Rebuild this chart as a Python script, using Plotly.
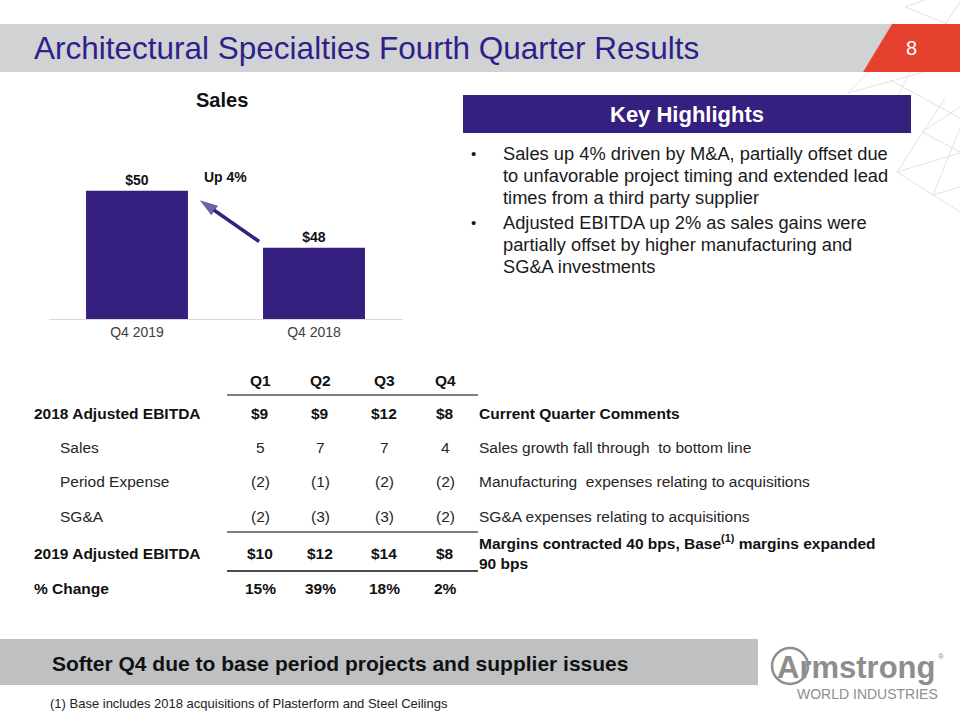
import plotly.graph_objects as go

# ---------------- data ----------------
categories = ["Q4 2019", "Q4 2018"]
sales = [50, 48]
sales_labels = ["$50", "$48"]
growth_label = "Up 4%"

quarters = ["Q1", "Q2", "Q3", "Q4"]
ebitda_2018 = [9, 9, 12, 8]
sales_impact = [5, 7, 7, 4]
period_expense = [-2, -1, -2, -2]
sga_impact = [-2, -3, -3, -2]
ebitda_2019 = [10, 12, 14, 8]
pct_change = [15, 39, 18, 2]

row_labels = ["2018 Adjusted EBITDA", "Sales", "Period Expense", "SG&A",
              "2019 Adjusted EBITDA", "% Change"]
comments = ["Current Quarter Comments",
            "Sales growth fall through  to bottom line",
            "Manufacturing  expenses relating to acquisitions",
            "SG&A expenses relating to acquisitions",
            "Margins contracted 40 bps, Base<sup>(1)</sup> margins expanded<br>90 bps"]

highlight_lines = [
    ["Sales up 4% driven by M&A, partially offset due",
     "to unfavorable project timing and extended lead",
     "times from a third party supplier"],
    ["Adjusted EBITDA up 2% as sales gains were",
     "partially offset by higher manufacturing and",
     "SG&A investments"],
]

title_text = "Architectural Specialties Fourth Quarter Results"
page_no = "8"
banner_text = "Softer Q4 due to base period projects and supplier issues"
footnote = "(1) Base includes 2018 acquisitions of Plasterform and Steel Ceilings"

# ---------------- styles ----------------
W, H = 960, 720
PURPLE = "#35207f"
ARIAL = "Liberation Sans, Arial, sans-serif"
NARROW = "Liberation Sans Narrow, Arial Narrow, Liberation Sans, sans-serif"
TFS = 15.5  # table font size


def X(px):
    return px / W


def Y(py):
    return 1 - py / H


def money(v):
    return f"${v}"


def paren(v):
    return f"({abs(v)})" if v < 0 else f"{v}"


fig = go.Figure()

fig.add_trace(go.Bar(
    x=categories, y=sales, text=sales_labels, texttemplate="<b>%{text}</b>",
    textposition="outside",
    textfont=dict(family=ARIAL, size=14, color="#111111"),
    marker=dict(color=PURPLE, line=dict(width=0)),
    cliponaxis=False, hoverinfo="skip", showlegend=False,
))

# growth arrow from the Q4 2018 bar toward the Q4 2019 bar (overlay linear axis)
fig.add_trace(go.Scatter(
    x=[0.69, 0.355], y=[sales[1] + 0.22, sales[0] - 0.33],
    xaxis="x2", yaxis="y", mode="lines+markers",
    line=dict(color=PURPLE, width=3.5),
    marker=dict(symbol=["circle", "arrow"], size=[0, 19], color=PURPLE,
                angleref="previous", line=dict(width=0)),
    cliponaxis=False, hoverinfo="skip", showlegend=False,
))

shapes = []
annotations = []

# decorative lattice lines (top right)
lattice = [
    ((905, 7), (925, 0)), ((905, 7), (955, 27)), ((960, 2), (940, 32)),
    ((848, 93), (870, 70)), ((848, 93), (960, 62)), ((890, 80), (960, 118)),
    ((910, 72), (880, 132)), ((922, 132), (960, 107)), ((922, 132), (960, 152)),
    ((897, 172), (960, 153)), ((897, 172), (960, 212)), ((933, 195), (960, 187)),
    ((945, 98), (897, 172)), ((960, 128), (933, 195)),
]
for (x0, y0), (x1, y1) in lattice:
    shapes.append(dict(type="line", xref="paper", yref="paper",
                       x0=X(x0), y0=Y(y0), x1=X(x1), y1=Y(y1),
                       line=dict(color="#e2e2e2", width=1), layer="below"))

# title band
shapes.append(dict(type="path", xref="paper", yref="paper",
                   path=f"M 0 {Y(24)} L {X(892)} {Y(24)} L {X(863)} {Y(72)} L 0 {Y(72)} Z",
                   fillcolor="#d1d2d4", line=dict(width=0)))
shapes.append(dict(type="path", xref="paper", yref="paper",
                   path=f"M {X(892)} {Y(24)} L 1 {Y(24)} L 1 {Y(72)} L {X(863)} {Y(72)} Z",
                   fillcolor="#e5412f", line=dict(width=0)))
annotations.append(dict(xref="paper", yref="paper", x=X(32), y=Y(48), xanchor="left",
                        yanchor="middle", text=title_text, showarrow=False,
                        font=dict(family=NARROW, size=31.5, color="#2e1f8a")))
annotations.append(dict(xref="paper", yref="paper", x=X(911), y=Y(48), xanchor="center",
                        yanchor="middle", text=page_no, showarrow=False,
                        font=dict(family=NARROW, size=20, color="white")))

# sales chart title and annotation
annotations.append(dict(xref="paper", yref="paper", x=X(222), y=Y(100), xanchor="center",
                        yanchor="middle", text="<b>Sales</b>", showarrow=False,
                        font=dict(family=ARIAL, size=20, color="#111111")))
annotations.append(dict(xref="x2", yref="y", x=0.5, y=sales[0] + 0.5, xanchor="center",
                        yanchor="middle", text=f"<b>{growth_label}</b>", showarrow=False,
                        font=dict(family=ARIAL, size=14, color="#111111")))

# key highlights box
shapes.append(dict(type="rect", xref="paper", yref="paper", x0=X(463), x1=X(911),
                   y0=Y(133), y1=Y(95), fillcolor=PURPLE, line=dict(width=0)))
annotations.append(dict(xref="paper", yref="paper", x=X(687), y=Y(114), xanchor="center",
                        yanchor="middle", text="<b>Key Highlights</b>", showarrow=False,
                        font=dict(family=ARIAL, size=22, color="white")))
line_y = [[153, 175, 197], [222, 244, 266]]
for bullet, ys in zip(highlight_lines, line_y):
    annotations.append(dict(xref="paper", yref="paper", x=X(473), y=Y(ys[0]),
                            xanchor="center", yanchor="middle", text="•", showarrow=False,
                            font=dict(family=ARIAL, size=15, color="#1a1a1a")))
    for txt, yy in zip(bullet, ys):
        annotations.append(dict(xref="paper", yref="paper", x=X(501), y=Y(yy),
                                xanchor="left", yanchor="middle", text=txt, showarrow=False,
                                font=dict(family=ARIAL, size=18.3, color="#1a1a1a")))

# table
col_x = [260, 320, 384, 445]
row_y = [413, 447, 482, 516, 553, 588]
header_y = 380
rows = [
    [money(v) for v in ebitda_2018],
    [paren(v) for v in sales_impact],
    [paren(v) for v in period_expense],
    [paren(v) for v in sga_impact],
    [money(v) for v in ebitda_2019],
    [f"{v}%" for v in pct_change],
]
bold_rows = {0, 4, 5}
for q, cx in zip(quarters, col_x):
    annotations.append(dict(xref="paper", yref="paper", x=X(cx), y=Y(header_y),
                            xanchor="center", yanchor="middle", text=f"<b>{q}</b>",
                            showarrow=False, font=dict(family=ARIAL, size=TFS, color="#111111")))
for i, (lab, vals, ry) in enumerate(zip(row_labels, rows, row_y)):
    bold = i in bold_rows
    annotations.append(dict(xref="paper", yref="paper", x=X(32 if bold else 58), y=Y(ry),
                            xanchor="left", yanchor="middle",
                            text=f"<b>{lab}</b>" if bold else lab, showarrow=False,
                            font=dict(family=ARIAL, size=TFS,
                                      color="#111111" if bold else "#262626")))
    for v, cx in zip(vals, col_x):
        annotations.append(dict(xref="paper", yref="paper", x=X(cx), y=Y(ry),
                                xanchor="center", yanchor="middle",
                                text=f"<b>{v}</b>" if bold else v, showarrow=False,
                                font=dict(family=ARIAL, size=TFS,
                                          color="#111111" if bold else "#262626")))
comment_y = [413, 447, 482, 516, 552]
for j, (c, cy) in enumerate(zip(comments, comment_y)):
    bold = j in (0, 4)
    annotations.append(dict(xref="paper", yref="paper", x=X(477), y=Y(cy),
                            xanchor="left", yanchor="middle", align="left",
                            text=f"<b>{c}</b>" if bold else c, showarrow=False,
                            font=dict(family=ARIAL, size=TFS,
                                      color="#111111" if bold else "#262626")))
for ly, col, wd in [(395, "#7f7f7f", 2), (532, "#7f7f7f", 2), (571, "#111111", 1.5)]:
    shapes.append(dict(type="line", xref="paper", yref="paper", x0=X(227), x1=X(478),
                       y0=Y(ly), y1=Y(ly), line=dict(color=col, width=wd)))

# bottom banner
shapes.append(dict(type="rect", xref="paper", yref="paper", x0=0, x1=X(758),
                   y0=Y(685), y1=Y(639), fillcolor="#bfc0c2", line=dict(width=0)))
annotations.append(dict(xref="paper", yref="paper", x=X(50), y=Y(663), xanchor="left",
                        yanchor="middle", text=f"<b>{banner_text}</b>", showarrow=False,
                        font=dict(family=NARROW, size=21, color="#111111")))
annotations.append(dict(xref="paper", yref="paper", x=X(48), y=Y(703), xanchor="left",
                        yanchor="middle", text=footnote, showarrow=False,
                        font=dict(family=NARROW, size=13, color="#222222")))

# logo
shapes.append(dict(type="circle", xref="paper", yref="paper", x0=X(772), x1=X(808),
                   y0=Y(684), y1=Y(648), line=dict(color="#8e8e8e", width=2.5)))
annotations.append(dict(xref="paper", yref="paper", x=X(775), y=Y(667), xanchor="left",
                        yanchor="middle", text="<b>Armstrong</b>", showarrow=False,
                        font=dict(family=ARIAL, size=31, color="#8e8e8e")))
annotations.append(dict(xref="paper", yref="paper", x=X(941), y=Y(656), xanchor="center",
                        yanchor="middle", text="®", showarrow=False,
                        font=dict(family=ARIAL, size=8, color="#8e8e8e")))
annotations.append(dict(xref="paper", yref="paper", x=X(867), y=Y(694), xanchor="center",
                        yanchor="middle", text="WORLD INDUSTRIES", showarrow=False,
                        font=dict(family=ARIAL, size=14, color="#8e8e8e")))

fig.update_layout(
    width=W, height=H, margin=dict(l=0, r=0, t=0, b=0),
    paper_bgcolor="white", plot_bgcolor="white",
    bargap=0.424, showlegend=False,
    xaxis=dict(domain=[X(48.5), X(402.5)], type="category", range=[-0.5, 1.5],
               showline=True, linecolor="#d9d9d9", linewidth=1, showgrid=False,
               zeroline=False, ticks="", fixedrange=True,
               tickfont=dict(family=ARIAL, size=14, color="#404040")),
    xaxis2=dict(domain=[X(48.5), X(402.5)], overlaying="x", range=[-0.5, 1.5],
                visible=False, fixedrange=True, anchor="y"),
    yaxis=dict(domain=[Y(319), Y(160)], range=[45.5, 51.08], visible=False,
               fixedrange=True),
    shapes=shapes, annotations=annotations,
)

fig.write_html("out.html")
